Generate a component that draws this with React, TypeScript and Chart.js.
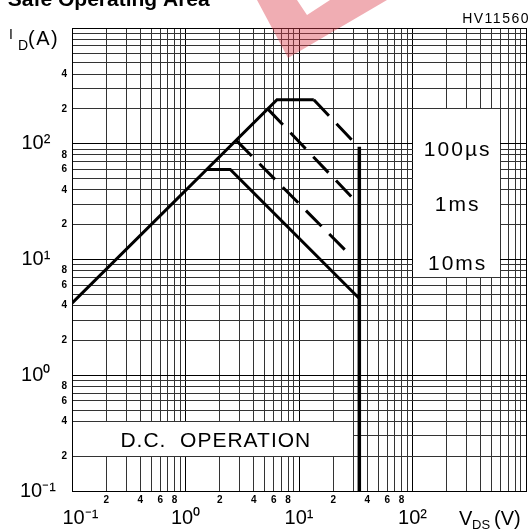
import React, { useEffect, useRef } from 'react';
import { Chart, registerables } from 'chart.js';

Chart.register(...registerables);

// ---------------- data ----------------
const vdsMin = 0.1;
const vdsMax = 1000;
const idMin = 0.1;
const idMax = 1000;

// solid outer envelope (rising R_DS(on) limit + 100us current plateau)
const envelopeV = [0.1, 6.4, 13.5];
const envelopeI = [4.2, 240, 240];
// D.C. operation curve
const dcV = [1.54, 2.48, 34];
const dcI = [60, 60, 4.6];
// pulse curves (dashed)
const t100usV = [13.5, 30];
const t100usI = [240, 105];
const t1msV = [5.3, 31];
const t1msI = [200, 32.5];
const t10msV = [2.8, 28];
const t10msI = [107, 11];
// V_DSS limit
const limitV = [34, 34];
const limitI = [94, 0.1];

// tick labelling
const minorLabelMantissas = [2, 4, 6, 8];
const xMinorLabelDecades = [-1, 0, 1];
const xMajorLabelDecades = [-1, 0, 1, 2];
const yMinorLabelDecades = [-1, 0, 1];
const yTopDecade = 2;
const yTopDecadeMantissas = [2, 4];
const yMajorLabelDecades = [-1, 0, 1, 2];

// annotations
const pulseNames = ['100µs', '1ms', '10ms'];
const pulseNameI = [91.6, 30.4, 9.4];
const pulseBoxV = [100, 600];
const pulseBoxI = [7, 200];
const dcBoxV = [0.1, 30];
const dcBoxI = [0.2, 0.4];
const dcText = 'D.C.  OPERATION';
const dcTextV = 1.85;
const dcTextI = 0.276;

const FONT = "'Liberation Sans', Arial, Helvetica, sans-serif";

const SUP: Record<string, string> = { '-': '⁻', '0': '⁰', '1': '¹', '2': '²', '3': '³' };
const sup = (n: number) => String(n).split('').map((c) => SUP[c]).join('');

function decomp(v: number) {
  const e = Math.floor(Math.log10(v) + 1e-9);
  const m = Math.round(v / Math.pow(10, e));
  return { e, m };
}
const isMajor = (v: number | undefined) => v !== undefined && decomp(v).m === 1;

function logTicks(min: number, max: number) {
  const out: number[] = [];
  const e0 = Math.round(Math.log10(min));
  const e1 = Math.round(Math.log10(max));
  for (let e = e0; e < e1; e++) {
    for (let m = 1; m <= 9; m++) out.push(Number((m * Math.pow(10, e)).toPrecision(6)));
  }
  out.push(max);
  return out;
}

function xLabel(v: number): string | string[] {
  const { e, m } = decomp(v);
  if (m === 1) {
    if (!xMajorLabelDecades.includes(e)) return '';
    return ['', (e === -1 ? '   ' : '') + '10' + sup(e)];
  }
  if (xMinorLabelDecades.includes(e) && minorLabelMantissas.includes(m)) return String(m);
  return '';
}

function yLabel(v: number): string {
  const { e, m } = decomp(v);
  if (m === 1) {
    if (!yMajorLabelDecades.includes(e)) return '';
    return '10' + sup(e) + (e === -1 ? '  ' : '   ');
  }
  if (yMinorLabelDecades.includes(e) && minorLabelMantissas.includes(m)) return String(m);
  if (e === yTopDecade && yTopDecadeMantissas.includes(m)) return String(m);
  return '';
}

const pts = (xs: number[], ys: number[]) => xs.map((x, i) => ({ x, y: ys[i] }));

const minorFont = { family: FONT, size: 10, weight: 'bold' as const, lineHeight: 1.2 };
const xMajorFont = { family: FONT, size: 20, weight: 'normal' as const, lineHeight: '16px' };
const yMajorFont = { family: FONT, size: 20, weight: 'normal' as const, lineHeight: 1.2 };

const gridColor = (ctx: any) => (ctx.tick && isMajor(ctx.tick.value) ? '#000' : '#333');

const boxesPlugin = {
  id: 'boxes',
  beforeDatasetsDraw(chart: any) {
    const { ctx } = chart;
    const xs = chart.scales.x;
    const ys = chart.scales.y;
    const a = (p: number) => Math.round(p - 0.5);
    const fillBox = (v: number[], i: number[]) => {
      const l = a(xs.getPixelForValue(v[0])) + 1;
      const r = a(xs.getPixelForValue(v[1]));
      const t = a(ys.getPixelForValue(i[1])) + 1;
      const b = a(ys.getPixelForValue(i[0]));
      ctx.save();
      ctx.fillStyle = '#fff';
      ctx.fillRect(l, t, r - l, b - t);
      ctx.restore();
    };
    fillBox(dcBoxV, dcBoxI);
    fillBox(pulseBoxV, pulseBoxI);
  },
};

const textPlugin = {
  id: 'texts',
  afterDraw(chart: any) {
    const { ctx } = chart;
    const xs = chart.scales.x;
    const ys = chart.scales.y;
    ctx.save();
    ctx.fillStyle = '#000';
    ctx.textBaseline = 'alphabetic';
    ctx.textAlign = 'left';

    // page title (cut by the top edge)
    ctx.font = `bold 21px ${FONT}`;
    const w = ctx.measureText('Safe ').width;
    ctx.fillText('Safe Operating Area', 58 - w, 6);

    // figure code
    ctx.font = `14px ${FONT}`;
    ctx.textAlign = 'right';
    (ctx as any).letterSpacing = '1.5px';
    ctx.fillText('HV11560', 530, 23);
    (ctx as any).letterSpacing = '0px';

    // y axis title I_D(A)
    ctx.textAlign = 'left';
    ctx.font = `14px ${FONT}`;
    ctx.fillText('I', 9, 39);
    ctx.fillText('D', 18, 49.5);
    ctx.font = `20px ${FONT}`;
    (ctx as any).letterSpacing = '1.5px';
    ctx.fillText('(A)', 28, 45);
    (ctx as any).letterSpacing = '0px';

    // x axis title V_DS (V)
    ctx.font = `20px ${FONT}`;
    ctx.fillText('V', 459, 525);
    ctx.font = `13px ${FONT}`;
    ctx.fillText('DS', 472, 529);
    ctx.font = `20px ${FONT}`;
    ctx.fillText('(V)', 494, 525);

    // pulse labels
    ctx.textAlign = 'center';
    ctx.font = `21px ${FONT}`;
    (ctx as any).letterSpacing = '2px';
    const cx = (xs.getPixelForValue(pulseBoxV[0]) + xs.getPixelForValue(pulseBoxV[1])) / 2 + 1;
    pulseNames.forEach((t, i) => {
      ctx.fillText(t, cx, ys.getPixelForValue(pulseNameI[i]) + 7.5);
    });
    (ctx as any).letterSpacing = '1px';
    ctx.fillText(dcText, xs.getPixelForValue(dcTextV), ys.getPixelForValue(dcTextI) + 7.5);
    (ctx as any).letterSpacing = '0px';

    // faint watermark
    ctx.globalAlpha = 0.42;
    ctx.fillStyle = 'rgb(220, 60, 75)';
    ctx.beginPath();
    ctx.moveTo(257, 0);
    ctx.lineTo(288, 58);
    ctx.lineTo(387, 0);
    ctx.lineTo(330, 0);
    ctx.lineTo(307, 15);
    ctx.lineTo(297, 0);
    ctx.closePath();
    ctx.fill();
    ctx.restore();
  },
};

export default function App() {
  const ref = useRef<HTMLCanvasElement>(null);
  useEffect(() => {
    if (!ref.current) return;
    const mk = (xs: number[], ys: number[], width: number, dash: number[]) => ({
      data: pts(xs, ys),
      borderColor: '#000',
      backgroundColor: '#000',
      borderWidth: width,
      borderDash: dash,
      pointRadius: 0,
      tension: 0,
      fill: false,
      showLine: true,
      borderCapStyle: 'butt' as const,
      borderJoinStyle: 'miter' as const,
    });
    const chart = new Chart(ref.current, {
      type: 'line',
      data: {
        datasets: [
          mk(envelopeV, envelopeI, 3, []),
          mk(dcV, dcI, 3, []),
          mk(t100usV, t100usI, 3, [22, 11]),
          mk(t1msV, t1msI, 3, [22, 11]),
          mk(t10msV, t10msI, 3, [22, 11]),
          mk(limitV, limitI, 3.5, []),
        ] as any,
      },
      options: {
        animation: false,
        responsive: false,
        events: [],
        layout: { padding: { left: 0, right: 5, top: 28, bottom: 0 } },
        plugins: { legend: { display: false }, tooltip: { enabled: false }, title: { display: false } },
        scales: {
          x: {
            type: 'logarithmic',
            position: 'bottom',
            min: vdsMin,
            max: vdsMax,
            afterBuildTicks: (s: any) => {
              s.ticks = logTicks(vdsMin, vdsMax).map((v) => ({ value: v, major: isMajor(v) }));
            },
            afterFit: (s: any) => {
              s.height = 38;
            },
            grid: { color: gridColor, lineWidth: 1, drawTicks: false },
            border: { color: '#000', width: 1 },
            ticks: {
              autoSkip: false,
              maxRotation: 0,
              minRotation: 0,
              padding: 3,
              color: '#000',
              font: (ctx: any) => (ctx.tick && isMajor(ctx.tick.value) ? xMajorFont : minorFont),
              callback: (v: any) => xLabel(Number(v)),
            },
          },
          y: {
            type: 'logarithmic',
            position: 'left',
            min: idMin,
            max: idMax,
            afterBuildTicks: (s: any) => {
              s.ticks = logTicks(idMin, idMax).map((v) => ({ value: v, major: isMajor(v) }));
            },
            afterFit: (s: any) => {
              s.width = 72;
            },
            grid: { color: gridColor, lineWidth: 1, drawTicks: false },
            border: { color: '#000', width: 1 },
            ticks: {
              autoSkip: false,
              padding: 5,
              color: '#000',
              font: (ctx: any) => (ctx.tick && isMajor(ctx.tick.value) ? yMajorFont : minorFont),
              callback: (v: any) => yLabel(Number(v)),
            },
          },
        },
      } as any,
      plugins: [boxesPlugin, textPlugin],
    });
    return () => chart.destroy();
  }, []);
  return (
    <div style={{ position: 'absolute', left: 0, top: 0, width: 531, height: 529, background: '#fff' }}>
      <canvas ref={ref} width={531} height={529} style={{ display: 'block' }} />
    </div>
  );
}
